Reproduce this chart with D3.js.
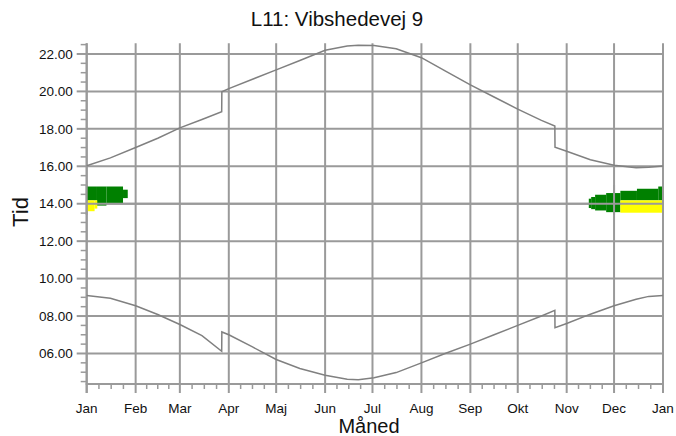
<!DOCTYPE html>
<html>
<head>
<meta charset="utf-8">
<script src="https://cdn.jsdelivr.net/npm/d3@7/dist/d3.min.js"></script>
<style>
html,body{margin:0;padding:0;background:#fff;}
svg{display:block;font-family:"Liberation Sans",Arial,sans-serif;}
</style>
</head>
<body>
<svg id="chart" width="676" height="436"></svg>
<script>
// ---- data ----
const titleText = "L11: Vibshedevej 9";
const xTitle = "Måned";
const yTitle = "Tid";
const monthLabels = ["Jan","Feb","Mar","Apr","Maj","Jun","Jul","Aug","Sep","Okt","Nov","Dec","Jan"];
const monthStartDays = [0,31,59,90,120,151,181,212,243,273,304,334,365];
const yMajorTicks = [6,8,10,12,14,16,18,20,22];

// day of year (0 = 1 Jan) with sunrise / sunset hours
const sunDays =      [0,    15,   31,   45,   59,   73,   85.5, 85.6, 90,   105,  120,  135,  151,  165,  172,  182,  196,  212,  227,  243,  258,  273,  288,  296.5,296.6,304,  319,  334,  348,  356,  365];
const sunsetHours =  [16.03,16.45,17.0, 17.5, 18.05,18.5, 18.92,19.98,20.15,20.65,21.15,21.65,22.2, 22.42,22.47,22.45,22.28,21.8, 21.1, 20.35,19.7, 19.05,18.45,18.15,17.02,16.8, 16.35,16.05,15.92,15.95,16.02];
const sunriseHours = [9.1,  8.95, 8.55, 8.08, 7.55, 6.95, 6.12, 7.15, 7.0,  6.35, 5.68, 5.2,  4.84, 4.62, 4.6,  4.7,  4.98, 5.5,  6.0,  6.5,  7.0,  7.5,  8.0,  8.3,  7.38, 7.6,  8.1,  8.55, 8.9,  9.05, 9.1];

// green shadow periods: day start, day end, low hour, high hour
const greenStart = [0,    6.5,  12.5, 23,   318,  319.5,322,  329,  338,  348.5,362];
const greenEnd =   [6.5,  12.5, 23,   26,   319.5,322,  329,  338,  348.5,362,  365];
const greenLow =   [14.18,13.9, 14.04,14.3, 13.77,13.71,13.64,13.55,14.18,14.18,14.18];
const greenHigh =  [14.92,14.92,14.92,14.75,14.27,14.36,14.48,14.57,14.69,14.8, 14.92];

// yellow periods
const yellowStart = [0.6, 5,    338];
const yellowEnd =   [5,   6.7,  365];
const yellowLow =   [13.6,13.74,13.52];
const yellowHigh =  [14.18,14.18,14.18];

(function(){
// ---- layout ----
const svg = d3.select("#chart");
const pL = 86.7, pR = 663, pT = 43.3, pB = 384;
const x = d3.scaleLinear().domain([0,365]).range([pL,pR]);
const y = d3.scaleLinear().domain([4.37,22.57]).range([pB,pT]);
const gridColor = "#9a9a9a";
const fmt = d3.format("05.2f");

// gridlines
svg.append("g").selectAll("line").data(yMajorTicks).join("line")
  .attr("x1",pL).attr("x2",pR)
  .attr("y1",d=>y(d)).attr("y2",d=>y(d))
  .attr("stroke",gridColor).attr("stroke-width",2);
svg.append("g").selectAll("line").data(monthStartDays).join("line")
  .attr("x1",d=>x(d)).attr("x2",d=>x(d))
  .attr("y1",pT).attr("y2",pB+9)
  .attr("stroke",gridColor).attr("stroke-width",2);

// axes lines
svg.append("line").attr("x1",pL).attr("x2",pL).attr("y1",pT).attr("y2",pB+9)
  .attr("stroke",gridColor).attr("stroke-width",2);
svg.append("line").attr("x1",pL-1).attr("x2",pR+1).attr("y1",pB).attr("y2",pB)
  .attr("stroke",gridColor).attr("stroke-width",2);

// y ticks (major + minor)
const yMinor = d3.range(4.5,22.51,0.5).filter(v=>Math.abs(v-Math.round(v/2)*2)>0.01);
svg.append("g").selectAll("line").data(yMinor).join("line")
  .attr("x1",pL-6).attr("x2",pL).attr("y1",d=>y(d)).attr("y2",d=>y(d))
  .attr("stroke",gridColor).attr("stroke-width",1.5);
svg.append("g").selectAll("line").data(yMajorTicks).join("line")
  .attr("x1",pL-10).attr("x2",pL).attr("y1",d=>y(d)).attr("y2",d=>y(d))
  .attr("stroke",gridColor).attr("stroke-width",2);
svg.append("g").selectAll("text").data(yMajorTicks).join("text")
  .attr("x",pL-14).attr("y",d=>y(d)).attr("dy","0.35em")
  .attr("text-anchor","end").attr("font-size",13.5).attr("fill","#111")
  .text(d=>fmt(d));

// x minor ticks (quarters of each month)
const xMinor = [];
for (let i=0;i<12;i++){
  const a=monthStartDays[i], b=monthStartDays[i+1];
  for (let k=1;k<4;k++) xMinor.push(a+(b-a)*k/4);
}
svg.append("g").selectAll("line").data(xMinor).join("line")
  .attr("x1",d=>x(d)).attr("x2",d=>x(d)).attr("y1",pB).attr("y2",pB+5)
  .attr("stroke",gridColor).attr("stroke-width",1.5);
svg.append("g").selectAll("text").data(monthLabels).join("text")
  .attr("x",(d,i)=>x(monthStartDays[i])).attr("y",413)
  .attr("text-anchor","middle").attr("font-size",13.5).attr("fill","#111")
  .text(d=>d);

// shaded periods
svg.append("g").selectAll("rect").data(greenStart).join("rect")
  .attr("x",(d,i)=>x(d)).attr("width",(d,i)=>x(greenEnd[i])-x(d))
  .attr("y",(d,i)=>y(greenHigh[i])).attr("height",(d,i)=>y(greenLow[i])-y(greenHigh[i]))
  .attr("fill","#008000");
svg.append("g").selectAll("rect").data(yellowStart).join("rect")
  .attr("x",(d,i)=>x(d)).attr("width",(d,i)=>x(yellowEnd[i])-x(d))
  .attr("y",(d,i)=>y(yellowHigh[i])).attr("height",(d,i)=>y(yellowLow[i])-y(yellowHigh[i]))
  .attr("fill","#ffff00");

// gridlines visible over shading
svg.append("line").attr("x1",pL).attr("x2",pR).attr("y1",y(14)).attr("y2",y(14))
  .attr("stroke",gridColor).attr("stroke-width",2);
svg.append("g").selectAll("line").data([0,334,365]).join("line")
  .attr("x1",d=>x(d)).attr("x2",d=>x(d)).attr("y1",y(15)).attr("y2",y(13.4))
  .attr("stroke",gridColor).attr("stroke-width",2);

// curves
const line = d3.line().x(d=>x(d[0])).y(d=>y(d[1]));
svg.append("path").datum(sunDays.map((d,i)=>[d,sunsetHours[i]]))
  .attr("d",line).attr("fill","none").attr("stroke","#808080").attr("stroke-width",1.5);
svg.append("path").datum(sunDays.map((d,i)=>[d,sunriseHours[i]]))
  .attr("d",line).attr("fill","none").attr("stroke","#808080").attr("stroke-width",1.5);

// titles
svg.append("text").attr("x",337).attr("y",26).attr("text-anchor","middle")
  .attr("font-size",20.5).attr("fill","#111").text(titleText);
svg.append("text").attr("x",369).attr("y",433).attr("text-anchor","middle")
  .attr("font-size",20).attr("fill","#111").text(xTitle);
svg.append("text").attr("transform","translate(28,212) rotate(-90)")
  .attr("text-anchor","middle").attr("font-size",22).attr("fill","#111").text(yTitle);
})();
</script>
</body>
</html>
